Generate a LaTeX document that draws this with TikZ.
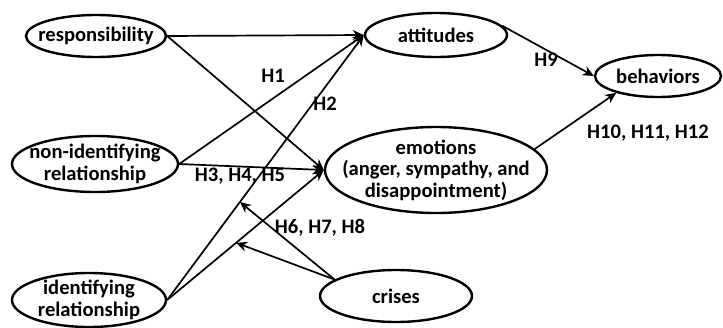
\documentclass[tikz,border=0pt]{standalone}
\usepackage{fontspec}
\setmainfont{Carlito}
\usetikzlibrary{arrows.meta,shapes.geometric,calc}

\begin{document}
\begin{tikzpicture}[
  x=0.5pt, y=-0.5pt,
  construct/.style={ellipse, draw, line width=1.2pt, inner xsep=-30pt, inner ysep=-10pt, align=center, font=\fontsize{10.3}{10.8}\selectfont\bfseries},
  hyp/.style={font=\fontsize{10.3}{10.8}\selectfont\bfseries},
  arrow/.style={-{Stealth[length=5.5pt,width=5pt]}, line width=0.85pt}
  ]
  \useasboundingbox (0,0) rectangle (723,327);
  % constructs
  \node[construct, minimum width=70pt, minimum height=21pt] (resp) at (96,36) {responsibility};
  \node[construct, minimum width=83pt, minimum height=28pt] (nonid) at (95,164) {non-identifying\\relationship};
  \node[construct, minimum width=77pt, minimum height=27pt] (ident) at (89,300) {identifying\\relationship};
  \node[construct, minimum width=71pt, minimum height=22pt] (att) at (436,35) {attitudes};
  \node[construct, minimum width=111pt, minimum height=43pt] (emo) at (436,170) {emotions\\(anger, sympathy, and\\disappointment)};
  \node[construct, minimum width=76pt, minimum height=26pt] (cris) at (396,296) {crises};
  \node[construct, minimum width=63pt, minimum height=21pt] (beh) at (658,76) {behaviors};
  % paths
  \draw[arrow] (resp.east) -- (att.west);
  \draw[arrow] (resp.east) -- (emo.west);
  \draw[arrow] (nonid.east) -- (att.west);
  \draw[arrow] (nonid.east) -- (emo.west);
  \draw[arrow] (ident.east) -- (att.west) coordinate[pos=0.37] (modatt);
  \draw[arrow] (ident.east) -- (emo.west) coordinate[pos=0.44] (modemo);
  \draw[arrow] (cris.165) -- (modatt);
  \draw[arrow] (cris.165) -- (modemo);
  \draw[arrow] (att.8) -- (beh.west);
  \draw[arrow] (emo.12) -- (beh.202);
  % hypotheses
  \node[hyp] (h1) at (273,76) {H1};
  \node[hyp] (h2) at (325,104) {H2};
  \node[hyp] (h3) at (240,176) {H3, H4, H5};
  \node[hyp] (h6) at (320,228) {H6, H7, H8};
  \node[hyp] (h9) at (546,60) {H9};
  \node[hyp] (h10) at (648,133) {H10, H11, H12};
\end{tikzpicture}
\end{document}
